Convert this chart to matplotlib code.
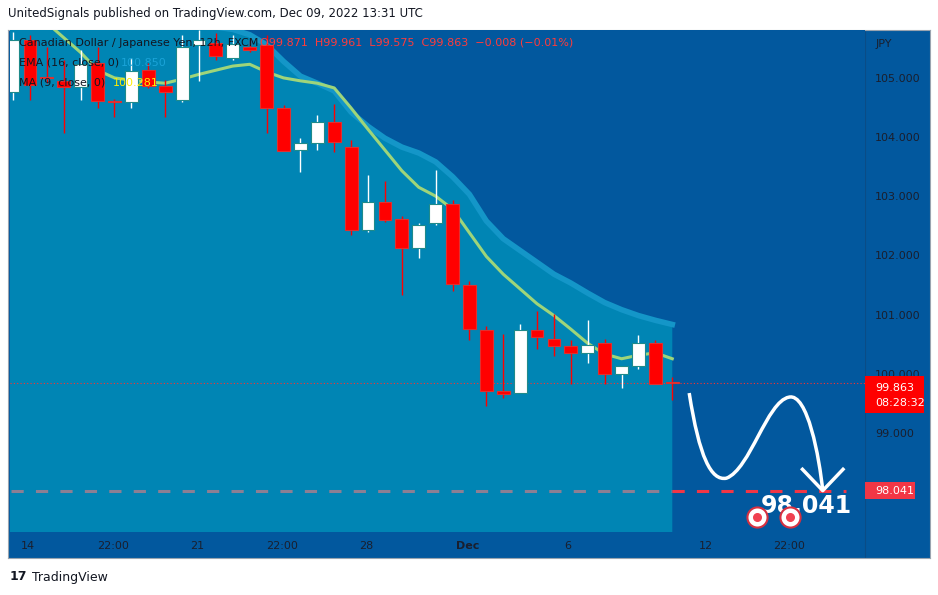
import numpy as np
import matplotlib
matplotlib.use("Agg")
import matplotlib.pyplot as plt
from matplotlib.patches import Rectangle, PathPatch
from matplotlib.path import Path

# CAD/JPY 12h candles (O, H, L, C)
opens  = [104.78,105.66,105.03,104.97,104.86,105.27,104.63,104.61,105.15,104.88,
          104.64,105.58,105.61,105.36,105.55,105.58,104.51,103.80,103.92,104.27,
          103.85,102.44,102.92,102.64,102.14,102.56,102.88,101.51,100.76,99.73,
          99.69,100.76,100.61,100.49,100.36,100.53,100.02,100.15,100.53,99.871]
highs  = [105.80,105.75,105.54,105.32,105.49,105.54,104.66,105.36,105.27,104.98,
          105.75,105.83,105.78,105.75,105.66,105.75,104.56,104.00,104.39,104.58,
          103.97,103.37,103.27,102.69,102.56,103.46,102.95,101.59,100.83,100.69,
          100.86,101.08,101.02,100.58,100.92,100.61,100.15,100.68,100.58,99.961]
lows   = [104.64,104.64,104.93,104.08,104.64,104.51,104.36,104.51,104.85,104.36,
          104.61,104.97,105.32,105.32,105.45,104.08,103.80,103.42,103.80,103.77,
          102.36,102.41,102.58,101.34,101.97,102.53,101.42,100.58,99.47,99.61,
          99.69,100.44,100.32,99.85,100.20,99.85,99.78,100.10,99.85,99.575]
closes = [105.66,104.90,105.02,104.86,105.25,104.63,104.61,105.14,104.88,104.78,
          105.54,105.66,105.39,105.59,105.49,104.51,103.79,103.92,104.27,103.93,
          102.44,102.92,102.61,102.14,102.53,102.88,101.54,100.78,99.73,99.68,
          100.76,100.63,100.49,100.36,100.51,100.02,100.14,100.53,99.85,99.863]
ema16 = [106.0,106.0,106.0,106.0,106.0,106.0,106.0,106.0,106.0,105.98,
         105.95,105.92,105.88,105.84,105.75,105.58,105.30,105.05,104.93,104.80,
         104.44,104.20,104.00,103.85,103.75,103.60,103.35,103.05,102.60,102.30,
         102.10,101.90,101.70,101.55,101.38,101.22,101.10,101.00,100.92,100.85]
ma9 = [106.3,106.1,105.95,105.70,105.45,105.15,105.02,104.98,104.95,104.93,
       105.00,105.08,105.15,105.22,105.25,105.12,105.02,104.97,104.93,104.85,
       104.51,104.15,103.80,103.45,103.17,103.02,102.80,102.40,102.00,101.70,
       101.45,101.20,101.00,100.77,100.53,100.35,100.27,100.33,100.37,100.27]
time_labels = ["14", "22:00", "21", "22:00", "28", "Dec", "6", "12", "22:00"]
time_pos = [0.9, 5.9, 10.9, 15.9, 20.9, 26.9, 32.8, 41.0, 45.9]
price_ticks = [99, 100, 101, 102, 103, 104, 105]
last_price = 99.863
target = 98.041

DARK = "#02589e"
LIGHT = "#0085b4"
W, H = 938, 595
fig = plt.figure(figsize=(W / 100, H / 100), dpi=100)
fig.patch.set_facecolor("white")

# outer frame with price / time strips (background axes)
bg = fig.add_axes([8 / W, 37 / H, 922 / W, 528 / H], zorder=-1)
bg.set_facecolor(DARK)
bg.set_xticks([]); bg.set_yticks([])
for s in bg.spines.values():
    s.set_color("#9aa4b0"); s.set_linewidth(0.8)
bg.axvline(857 / 922, color="#0a4c86", lw=0.8)

ax = fig.add_axes([10 / W, 63 / H, 855 / W, 502 / H])
ax.set_facecolor(DARK)
n = len(closes)
x = np.arange(n)
ax.set_xlim(-0.18, 50.4)
ax.set_ylim(97.34, 105.83)

# light area below EMA
ax.fill_between(np.r_[-0.5, x], np.r_[ema16[0], ema16], 90, color=LIGHT, lw=0, zorder=1)
ax.plot(x, ema16, color="#1496c8", lw=4, zorder=2)
ax.plot(x, ma9, color="#9ed57a", lw=2.2, zorder=3)

for i in range(n):
    up = closes[i] >= opens[i]
    fc = "white" if up else "#ff0000"
    ec = "#1f8a8a" if up else "#e03030"
    ax.vlines(i, lows[i], highs[i], color="white" if up else "#ff0000", lw=1, zorder=4)
    lo, hi = sorted([opens[i], closes[i]])
    ax.add_patch(Rectangle((i - 0.38, lo), 0.76, max(hi - lo, 0.02), facecolor=fc,
                           edgecolor=ec, lw=0.8, zorder=5))

ax.axhline(last_price, color="#ff3030", lw=0.8, ls=(0, (1, 2)), zorder=3)
ax.hlines(target, -0.1, n - 1, color="#8c7f93", lw=2.2, ls=(0, (4, 4)), zorder=6)
ax.hlines(target, n - 1, 49.3, color="#f23645", lw=2.2, ls=(0, (4, 4)), zorder=6)

# hand drawn arrow
verts = [(40.0, 99.69), (40.6, 98.6), (41.3, 98.2), (42.2, 98.25),
         (43.6, 98.4), (44.6, 99.55), (45.9, 99.62),
         (47.0, 99.7), (47.7, 98.6), (47.9, 98.04)]
codes = [Path.MOVETO] + [Path.CURVE4] * 9
ax.add_patch(PathPatch(Path(verts, codes), facecolor="none", edgecolor="white", lw=2.5, zorder=7))
ax.plot([46.7, 47.9, 49.1], [98.4, 98.04, 98.4], color="white", lw=2.5, zorder=7)
ax.text(49.6, 97.78, "98.041", color="white", fontsize=17, fontweight="bold",
        ha="right", va="center", zorder=8)
for cx in [44.0, 45.95]:
    ax.scatter(cx, 97.6, s=210, facecolor="white", edgecolor="#d63040", lw=1.5, zorder=8)
    ax.scatter(cx, 97.6, s=30, color="#f04050", zorder=9)

ax.set_xticks([]); ax.set_yticks([])
for s in ax.spines.values():
    s.set_visible(False)

yt = ax.get_yaxis_transform()
for p in price_ticks:
    ax.text(1.012, p, f"{p:.3f}", transform=yt, fontsize=8, color="#1a1f2e",
            va="center", clip_on=False)
ax.text(1.012, 105.6, "JPY", transform=yt, fontsize=8, color="#1a1f2e", va="center")
ax.add_patch(Rectangle((1.0, 99.35), 0.069, 0.63, transform=yt, facecolor="#ff0000",
                       clip_on=False, zorder=10))
ax.text(1.012, 99.78, "99.863", transform=yt, fontsize=8, color="white", va="center", zorder=11)
ax.text(1.012, 99.52, "08:28:32", transform=yt, fontsize=8, color="white", va="center", zorder=11)
ax.add_patch(Rectangle((1.0, 97.9), 0.058, 0.28, transform=yt, facecolor="#f23645",
                       clip_on=False, zorder=10))
ax.text(1.012, target, "98.041", transform=yt, fontsize=8, color="white", va="center", zorder=11)

xt = ax.get_xaxis_transform()
for t, p in zip(time_labels, time_pos):
    ax.text(p, -0.027, t, transform=xt, fontsize=8, color="#1a1f2e", ha="center", va="center",
            fontweight="bold" if t == "Dec" else "normal")

# legend lines
ax.text(0.01, 0.985, "Canadian Dollar / Japanese Yen, 12h, FXCM", transform=ax.transAxes,
        fontsize=8, color="#131722", va="top", zorder=12)
ax.text(0.292, 0.985, "O99.871  H99.961  L99.575  C99.863  \u22120.008 (\u22120.01%)",
        transform=ax.transAxes, fontsize=8, color="#ff3b3b", va="top", zorder=12)
ax.text(0.01, 0.945, "EMA (16, close, 0)", transform=ax.transAxes, fontsize=8, color="#131722",
        va="top", zorder=12)
ax.text(0.13, 0.945, "100.850", transform=ax.transAxes, fontsize=8, color="#1aa3d8", va="top", zorder=12)
ax.text(0.01, 0.905, "MA (9, close, 0)", transform=ax.transAxes, fontsize=8, color="#131722",
        va="top", zorder=12)
ax.text(0.12, 0.905, "100.281", transform=ax.transAxes, fontsize=8, color="#ffee00", va="top", zorder=12)

fig.text(8 / W, 1 - 14 / H, "UnitedSignals published on TradingView.com, Dec 09, 2022 13:31 UTC",
         fontsize=8.5, color="#131722", va="center")
fig.text(10 / W, 1 - 577 / H, "17", fontsize=9, fontweight="bold", color="#131722", va="center")
fig.text(32 / W, 1 - 577 / H, "TradingView", fontsize=9, color="#131722", va="center")

fig.savefig("out.png", dpi=100)
